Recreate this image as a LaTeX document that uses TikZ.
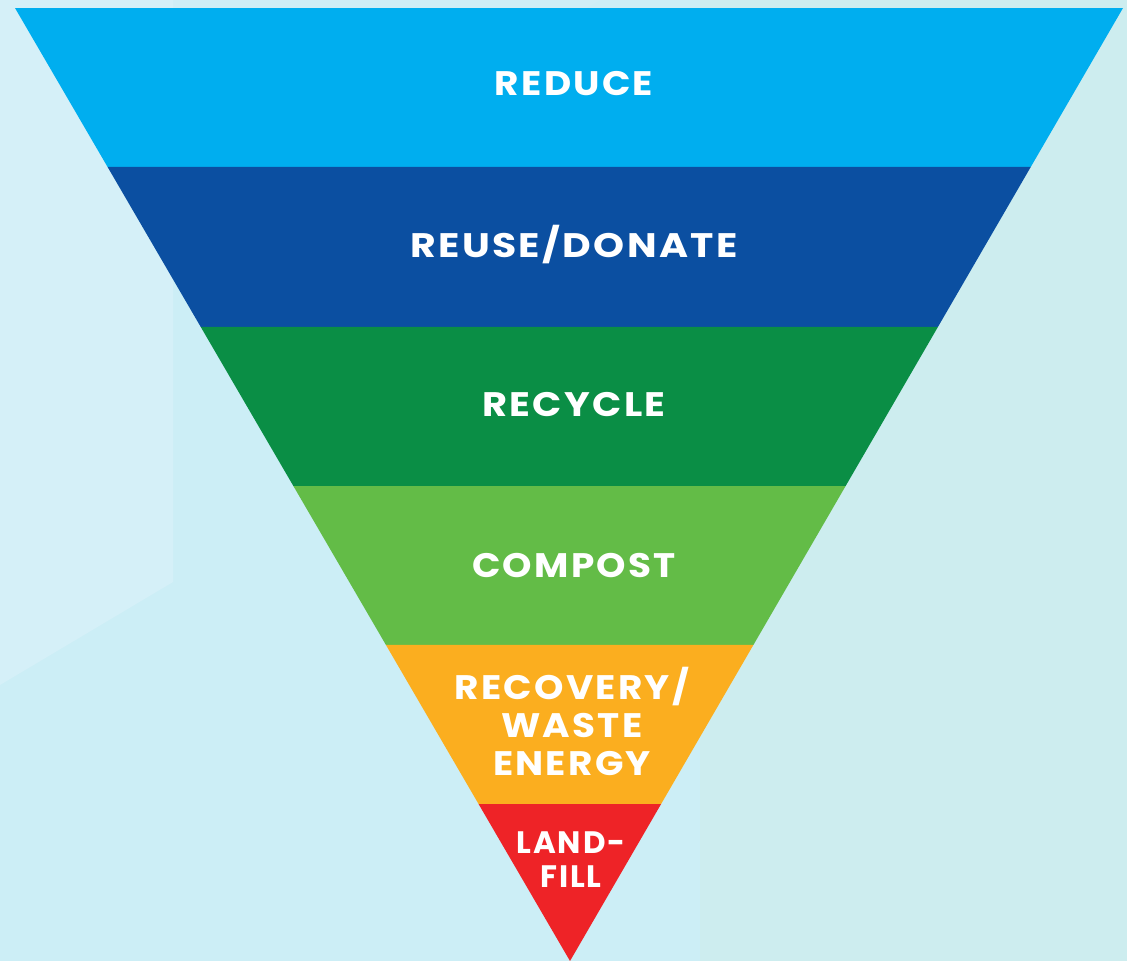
\documentclass[tikz,border=0pt]{standalone}
\usepackage{fontspec}
\usepackage{graphicx}
\setmainfont{Poppins}
\newfontfamily\labelfont{Poppins}[LetterSpace=6]
\usetikzlibrary{calc}
\newcommand\wide[2][1.1]{\scalebox{#1}[1]{#2}}
\definecolor{bgbase}{HTML}{CCEEF6}
\definecolor{bglight}{HTML}{D5F0F8}
\definecolor{bgright}{HTML}{CDEDEF}
\definecolor{creduce}{HTML}{00AEEF}
\definecolor{creuse}{HTML}{0B4FA1}
\definecolor{crecycle}{HTML}{0A8E45}
\definecolor{ccompost}{HTML}{63BC47}
\definecolor{crecovery}{HTML}{FBAE1F}
\definecolor{clandfill}{HTML}{EE2327}
\tikzset{
  band/.style={fill=#1, draw=none},
  label/.style={text=white, font=\labelfont\bfseries\fontsize{34}{38}\selectfont, align=center, inner sep=0pt},
  smalllabel/.style={text=white, font=\labelfont\bfseries\fontsize{31}{34}\selectfont, align=center, inner sep=0pt},
}
\begin{document}
\begin{tikzpicture}[x=1pt,y=-1pt]
\useasboundingbox (0,0) rectangle (1127,961);
% background
\fill[bgbase] (0,0) rectangle (1127,961);
\fill[bgright] (700,0) rectangle (1127,961);
\fill[bglight] (0,0) -- (173,0) -- (173,582) -- (0,685) -- cycle;
\fill[bglight, opacity=0.4] (173,0) -- (600,0) -- (173,250) -- cycle;
% triangle corners
\coordinate (TL) at (15,8);
\coordinate (TR) at (1123,8);
\coordinate (A) at (570,961);
\coordinate (L1) at ($(TL)!0.1668!(A)$); \coordinate (R1) at ($(TR)!0.1668!(A)$);
\coordinate (L2) at ($(TL)!0.3347!(A)$); \coordinate (R2) at ($(TR)!0.3347!(A)$);
\coordinate (L3) at ($(TL)!0.5016!(A)$); \coordinate (R3) at ($(TR)!0.5016!(A)$);
\coordinate (L4) at ($(TL)!0.6684!(A)$); \coordinate (R4) at ($(TR)!0.6684!(A)$);
\coordinate (L5) at ($(TL)!0.8353!(A)$); \coordinate (R5) at ($(TR)!0.8353!(A)$);
% bands
\fill[band=creduce] (TL) -- (TR) -- (R1) -- (L1) -- cycle;
\fill[band=creuse] (L1) -- (R1) -- (R2) -- (L2) -- cycle;
\fill[band=crecycle] (L2) -- (R2) -- (R3) -- (L3) -- cycle;
\fill[band=ccompost] (L3) -- (R3) -- (R4) -- (L4) -- cycle;
\fill[band=crecovery] (L4) -- (R4) -- (R5) -- (L5) -- cycle;
\fill[band=clandfill] (L5) -- (R5) -- (A) -- cycle;
% labels
\node[label] (reduce) at (574,84) {\wide{REDUCE}};
\node[label] (reuse) at (574,245) {\wide[1.16]{REUSE/DONATE}};
\node[label] (recycle) at (574,405) {\wide[1.13]{RECYCLE}};
\node[label] (compost) at (574,566) {\wide{COMPOST}};
\node[label] (recovery) at (572,721) {\wide{RECOVERY/}\\\wide{WASTE}\\\wide{ENERGY}};
\node[smalllabel] (landfill) at (571,860) {\wide[1.0]{LAND-}\\\wide[1.0]{FILL}};
\end{tikzpicture}
\end{document}
